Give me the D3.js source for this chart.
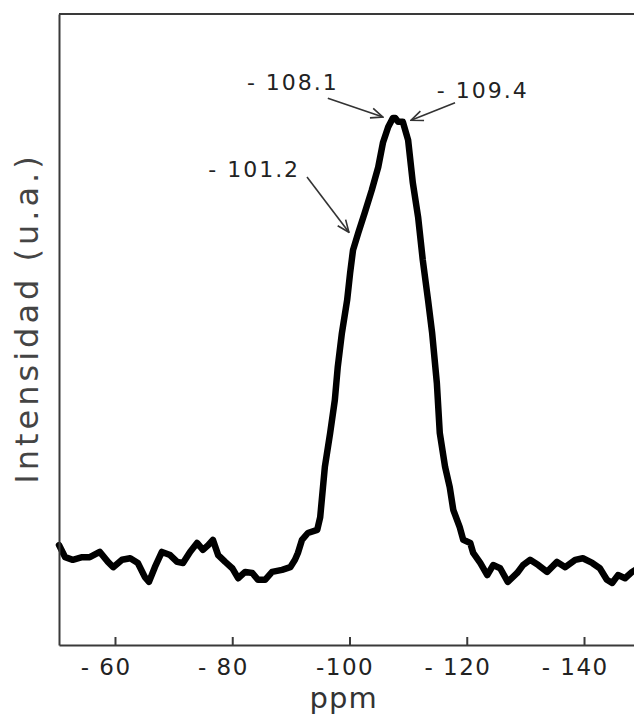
<!DOCTYPE html>
<html><head><meta charset="utf-8">
<script src="https://cdn.jsdelivr.net/npm/d3@7"></script>
<style>body{margin:0;background:#fff;} svg{display:block;}</style>
</head><body><svg id="c" width="634" height="717"></svg>
<script>
// ---- data ----
const ppm = [-50.45,-51.5,-52.8,-54.4,-55.7,-57.4,-58.8,-59.7,-61.2,-62.6,-63.9,-65.1,-65.8,-66.8,-68.0,-69.4,-70.6,-71.6,-72.8,-74.0,-75.0,-75.9,-76.7,-77.6,-78.8,-80.0,-81.0,-82.2,-83.4,-84.4,-85.6,-86.8,-88.5,-89.9,-90.7,-91.2,-91.9,-92.9,-94.5,-95.0,-95.8,-96.7,-97.5,-98.0,-98.7,-99.6,-100.1,-100.6,-101.5,-102.6,-103.8,-104.9,-105.7,-106.6,-107.4,-107.8,-108.3,-109.1,-110.0,-110.8,-111.7,-112.5,-113.4,-114.1,-114.9,-115.4,-116.3,-117.1,-117.7,-118.8,-119.4,-120.6,-121.1,-122.3,-123.5,-124.5,-125.7,-127.0,-128.6,-129.6,-130.8,-132.2,-133.7,-135.4,-136.8,-138.5,-139.8,-141.4,-142.7,-143.9,-144.8,-145.8,-147.0,-148.2,-149.5];
const intensity = [19.0,16.7,16.2,16.7,16.7,17.7,15.8,14.8,16.2,16.5,15.6,12.9,12.0,14.8,17.7,17.1,15.8,15.6,17.7,19.4,18.1,19.0,20.0,17.1,15.8,14.6,12.7,13.9,13.7,12.4,12.4,13.9,14.3,14.8,16.2,17.5,20.0,21.3,21.9,24.3,33.9,40.3,46.6,52.9,59.3,65.6,70.7,75.1,78.4,82.2,86.5,90.9,95.5,98.5,100.2,100.2,99.5,99.5,96.0,87.9,81.4,73.2,65.6,59.3,49.8,40.3,33.9,30.0,25.7,22.4,20.0,19.4,17.5,15.6,13.3,15.2,14.6,12.0,13.7,15.2,16.2,15.2,13.9,15.8,14.8,16.2,16.5,15.6,14.6,12.4,11.8,13.3,12.7,13.9,14.8];
const tickValues = [-60,-80,-100,-120,-140];
const tickLabels = ["- 60","- 80","-100","- 120","- 140"];
const xTitle = "ppm";
const yTitle = "Intensidad (u.a.)";
const annLabels = ["- 108.1","- 109.4","- 101.2"];
const annTextPpm = [-82.5,-114.9,-75.9];
const annTextInt = [105.6,104.0,89.0];
const annTailPpm = [-96.3,-118.0,-92.75];
const annTailInt = [104.0,103.1,89.0];
const annTipPpm = [-105.7,-110.5,-99.9];
const annTipInt = [100.4,99.8,78.5];

// ---- chart ----
const svg = d3.select("#c");
const L = 59, R = 640, T = 14, B = 645;
const x = d3.scaleLinear().domain([-50.45, -149.55]).range([L, R]);
const y = d3.scaleLinear().domain([0, 120]).range([B, T]);
const font = "'DejaVu Sans', Verdana, sans-serif";
const axisColor = "#3a3a3a";

svg.append("rect").attr("width",634).attr("height",717).attr("fill","#fff");

svg.append("defs").append("marker")
  .attr("id","ah").attr("viewBox","0 0 14 12").attr("refX",13).attr("refY",6)
  .attr("markerWidth",14).attr("markerHeight",12).attr("markerUnits","userSpaceOnUse")
  .attr("orient","auto")
  .append("path").attr("d","M1,1 L13,6 L1,11").attr("fill","none")
  .attr("stroke","#333").attr("stroke-width",1.6);

// curve
const pts = ppm.map((p,i)=>[p,intensity[i]]);
svg.append("path").datum(pts)
  .attr("fill","none").attr("stroke","#000").attr("stroke-width",6.5)
  .attr("stroke-linejoin","round").attr("stroke-linecap","round")
  .attr("d", d3.line().x(d=>x(d[0])).y(d=>y(d[1])));

// top border
svg.append("line").attr("x1",L).attr("x2",R).attr("y1",T).attr("y2",T)
  .attr("stroke",axisColor).attr("stroke-width",2);

// left axis
const ya = svg.append("g").attr("transform",`translate(${L},0)`)
  .call(d3.axisLeft(y).tickValues([]).tickSizeOuter(0));
ya.select(".domain").attr("stroke",axisColor).attr("stroke-width",2);

// bottom axis
const xa = svg.append("g").attr("transform",`translate(0,${B})`)
  .call(d3.axisBottom(x).tickValues(tickValues).tickSizeInner(-8).tickSizeOuter(0)
    .tickFormat((d,i)=>tickLabels[i]));
xa.select(".domain").attr("stroke",axisColor).attr("stroke-width",2);
xa.selectAll(".tick line").attr("stroke",axisColor).attr("stroke-width",2);
const tmp = svg.append("text").attr("font-family",font).attr("font-size",23).style("letter-spacing","1.5px");
xa.selectAll(".tick text")
  .attr("font-family",font).attr("font-size",23).attr("fill","#222")
  .style("letter-spacing","1.5px")
  .attr("y",30).attr("dy",0)
  .each(function(d,i){
    const num = tickLabels[i].replace(/[^0-9]/g,"");
    tmp.text(num);
    const w = tmp.node().getComputedTextLength();
    d3.select(this).attr("text-anchor","end").attr("x", w/2);
  });
tmp.remove();

// axis titles
svg.append("text").attr("x",(x(-100)+x(-98))/2).attr("y",708)
  .attr("text-anchor","middle").attr("font-family",font).attr("font-size",29)
  .style("letter-spacing","1px").attr("fill","#333").text(xTitle);
svg.append("text").attr("transform",`translate(38,318) rotate(-90)`)
  .attr("text-anchor","middle").attr("font-family",font).attr("font-size",32)
  .style("letter-spacing","4px").attr("fill","#444").text(yTitle);

// annotations
annLabels.forEach((lab,i)=>{
  svg.append("text").attr("x",x(annTextPpm[i])).attr("y",y(annTextInt[i]))
    .attr("font-family",font).attr("font-size",22).style("letter-spacing","2px")
    .attr("fill","#222").text(lab);
  svg.append("line")
    .attr("x1",x(annTailPpm[i])).attr("y1",y(annTailInt[i]))
    .attr("x2",x(annTipPpm[i])).attr("y2",y(annTipInt[i]))
    .attr("stroke","#333").attr("stroke-width",1.6).attr("marker-end","url(#ah)");
});
</script></body></html>
